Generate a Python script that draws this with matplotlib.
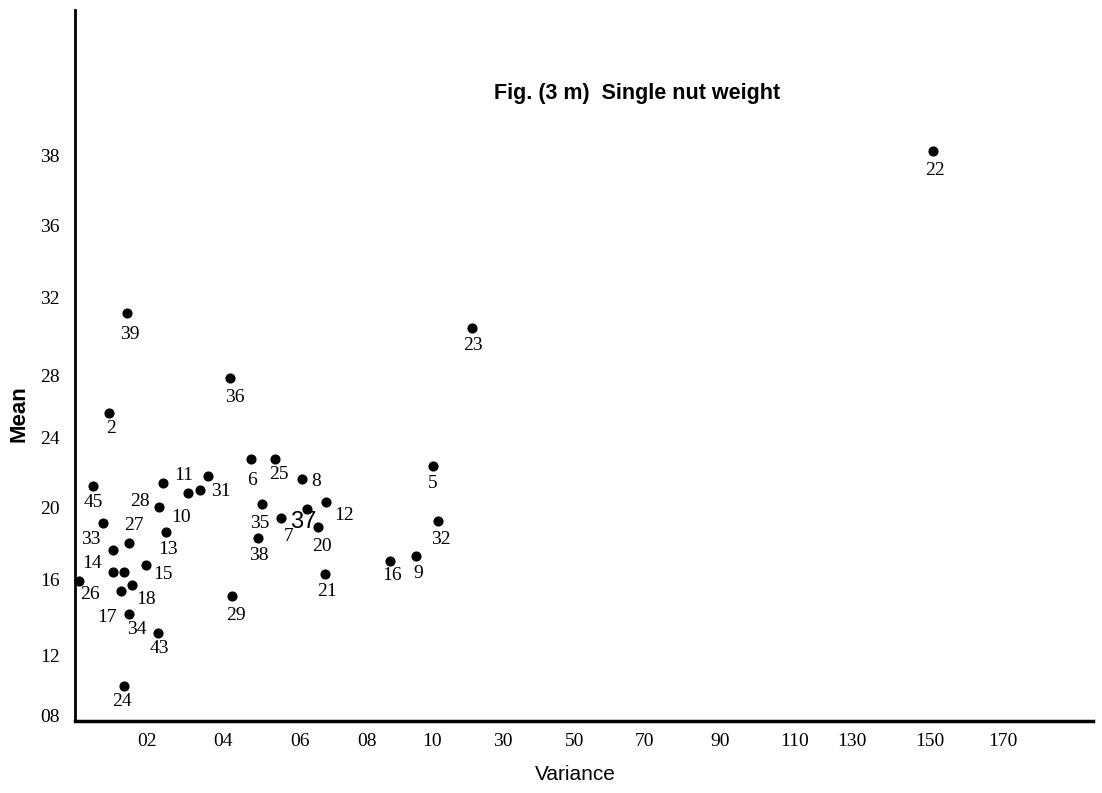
import matplotlib
matplotlib.use("Agg")
import matplotlib.pyplot as plt
import numpy as np

# variance / mean for each nut sample, label '' = unnumbered point
labels = ['2', '45', '33', '14', '27', '26', '', '', '17', '18', '34', '15',
          '43', '24', '28', '11', '13', '10', '', '31', '29', '6', '25', '35',
          '7', '38', '36', '39', '8', '37', '12', '20', '21', '16', '9', '5',
          '32', '23', '22']
variance = [0.95, 0.51, 0.79, 1.06, 1.5, 0.12, 1.06, 1.37, 1.27, 1.59, 1.51, 1.97,
            2.28, 1.37, 2.32, 2.43, 2.5, 3.09, 3.39, 3.61, 4.24, 4.73, 5.34, 5.02,
            5.51, 4.91, 4.19, 1.44, 6.07, 6.2, 6.77, 6.55, 6.75, 8.71, 9.5, 10.3,
            11.6, 21.4, 150.9]
mean = [25.6, 21.2, 19.1, 17.6, 18.0, 15.9, 16.4, 16.4, 15.4, 15.7, 14.2, 16.8,
        13.2, 10.0, 20.0, 21.4, 18.6, 20.8, 21.0, 21.8, 15.1, 22.8, 22.8, 20.2,
        19.4, 18.3, 27.8, 31.2, 21.6, 19.9, 20.3, 18.9, 16.3, 17.0, 17.3, 22.4,
        19.2, 30.4, 38.1]

# where each number sits relative to its dot (pixels, x right / y up)
label_offsets = [(2, -16), (0, -16), (-13, -16), (-21, -13), (5, 17), (11, -14),
                 (0, 0), (0, 0), (-14, -27), (14, -15), (7, -16), (17, -10),
                 (2, -16), (-2, -16), (-19, 6), (20, 7), (2, -17), (-7, -24),
                 (0, 0), (13, -16), (4, -19), (1, -22), (4, -16), (-3, -20),
                 (7, -19), (1, -18), (4, -19), (3, -22), (14, -2), (-3, -13),
                 (18, -14), (4, -20), (2, -18), (2, -15), (3, -18), (0, -18),
                 (3, -18), (0, -17), (2, -19)]

x_tick_vals = [2, 4, 6, 8, 10, 30, 50, 70, 90, 110, 130, 150, 170]
x_tick_text = ['02', '04', '06', '08', '10', '30', '50', '70', '90', '110', '130', '150', '170']
y_tick_vals = [8, 12, 16, 20, 24, 28, 32, 36, 38]
y_tick_text = ['08', '12', '16', '20', '24', '28', '32', '36', '38']

# the printed axes are not evenly ruled, so the scales are piecewise
x_anchor_vals = [0] + x_tick_vals + [195]
x_anchor_pos = [0, 72, 148, 225, 292, 357, 428, 500, 570, 645, 720, 777, 855, 928, 1018]
y_anchor_vals = [7.67] + y_tick_vals + [42.1]
y_anchor_pos = [0, 5, 65, 142, 214, 283, 346, 424, 496, 566, 711]


def x_fwd(v):
    return np.interp(v, x_anchor_vals, x_anchor_pos)


def x_inv(p):
    return np.interp(p, x_anchor_pos, x_anchor_vals)


def y_fwd(v):
    return np.interp(v, y_anchor_vals, y_anchor_pos)


def y_inv(p):
    return np.interp(p, y_anchor_pos, y_anchor_vals)


serif = 'Liberation Serif'
sans = 'Liberation Sans'

fig = plt.figure(figsize=(11.02, 7.93), dpi=100)
ax = fig.add_axes([75 / 1102, 72 / 793, 1018 / 1102, 711 / 793])
ax.set_xscale('function', functions=(x_fwd, x_inv))
ax.set_yscale('function', functions=(y_fwd, y_inv))
ax.set_xlim(0, 195)
ax.set_ylim(7.67, 42.1)

ax.plot(variance, mean, 'o', color='black', markersize=6.3, clip_on=False)

for lab, x, y, off in zip(labels, variance, mean, label_offsets):
    if not lab:
        continue
    if lab == '37':
        ax.annotate(lab, (x, y), xytext=off, textcoords='offset pixels',
                    ha='center', va='center', fontsize=17, family=sans)
    else:
        ax.annotate(lab, (x, y), xytext=off, textcoords='offset pixels',
                    ha='center', va='center', fontsize=14, family=serif)

ax.set_xticks(x_tick_vals)
ax.set_xticklabels(x_tick_text, family=serif, fontsize=14)
ax.set_yticks(y_tick_vals)
ax.set_yticklabels(y_tick_text, family=serif, fontsize=14)
ax.xaxis.set_minor_locator(plt.NullLocator())
ax.yaxis.set_minor_locator(plt.NullLocator())
ax.tick_params(axis='x', length=0, pad=9)
ax.tick_params(axis='y', length=0, pad=11)

for side in ['top', 'right']:
    ax.spines[side].set_visible(False)
ax.spines['left'].set_linewidth(2)
ax.spines['bottom'].set_linewidth(2.5)

fig.text(575 / 1102, 1 - 775 / 793, 'Variance', ha='center', va='center',
         fontsize=15, family=sans)
fig.text(19 / 1102, 1 - 414 / 793, 'Mean', ha='center', va='center',
         fontsize=16, family=sans, fontweight='bold', rotation=90)
fig.text(637 / 1102, 1 - 93 / 793, 'Fig. (3 m)  Single nut weight', ha='center',
         va='center', fontsize=15.5, family=sans, fontweight='bold')

fig.savefig('out.png', dpi=100)
